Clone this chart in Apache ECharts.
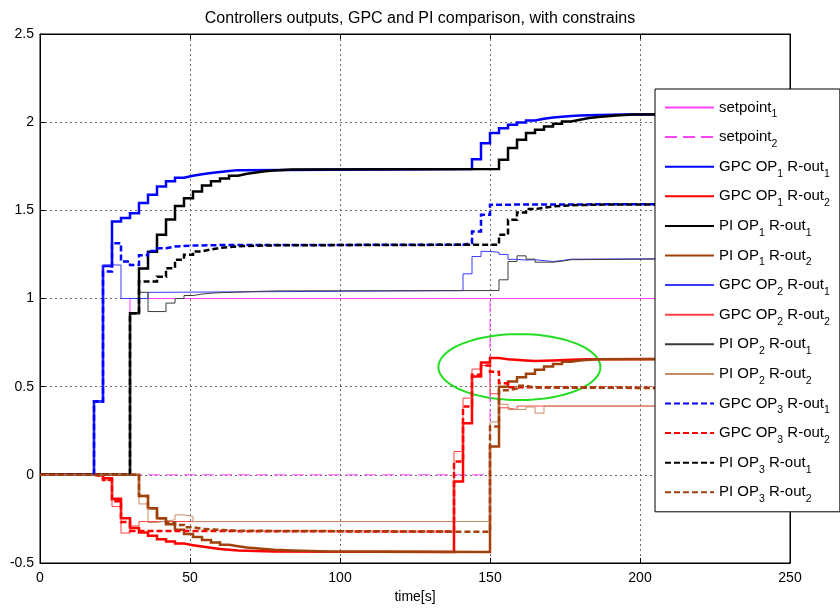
<!DOCTYPE html>
<html>
<head>
<meta charset="utf-8">
<title>Controllers outputs</title>
<script src="https://cdn.jsdelivr.net/npm/echarts@6/dist/echarts.min.js"></script>
<style>
  html, body { margin: 0; padding: 0; background: #ffffff; }
  #chart { width: 840px; height: 610px; }
</style>
</head>
<body>
<div id="chart"></div>
<script>
// ---- data: controller outputs as zero-order-hold samples [time (s), value] ----
const xTicks = [0, 50, 100, 150, 200, 250];
const yTicks = [-0.5, 0, 0.5, 1, 1.5, 2, 2.5];

const setpoint1 = [[0, 0], [30, 1], [250, 1]];
const setpoint2 = [[0, 0], [150, 1], [250, 1]];

const gpcOp1Out1 = [[0, 0], [18, 0.416], [21, 1.185], [24, 1.437], [27, 1.456], [30, 1.484], [33, 1.541],
  [36, 1.588], [39, 1.635], [42, 1.665], [45, 1.685], [48, 1.696], [51, 1.705], [54, 1.712], [57, 1.718],
  [60, 1.723], [63, 1.728], [66, 1.735], [144, 1.79], [147, 1.881], [150, 1.938], [153, 1.966], [156, 1.985],
  [159, 1.998], [162, 2.010], [165, 2.019], [168, 2.026], [171, 2.031], [174, 2.035], [177, 2.038],
  [180, 2.041], [186, 2.044], [195, 2.046], [250, 2.046]];

const gpcOp1Out2 = [[0, 0], [21, -0.02], [24, -0.135], [27, -0.246], [30, -0.302], [33, -0.327], [36, -0.346],
  [39, -0.365], [42, -0.378], [45, -0.39], [48, -0.399], [51, -0.407], [54, -0.414], [57, -0.42], [60, -0.425],
  [63, -0.429], [66, -0.432], [72, -0.435], [78, -0.437], [138, -0.038], [141, 0.293], [144, 0.558],
  [147, 0.637], [150, 0.662], [153, 0.655], [156, 0.648], [162, 0.645], [165, 0.648], [171, 0.652],
  [177, 0.655], [183, 0.658], [250, 0.658]];

const piOp1Out1 = [[0, 0], [30, 0.917], [33, 1.17], [36, 1.265], [39, 1.361], [42, 1.448], [45, 1.524],
  [48, 1.569], [51, 1.607], [54, 1.641], [57, 1.665], [60, 1.68], [63, 1.696], [66, 1.707], [69, 1.715],
  [72, 1.721], [75, 1.726], [78, 1.729], [81, 1.732], [84, 1.735], [153, 1.787], [156, 1.853], [159, 1.900],
  [162, 1.938], [165, 1.957], [168, 1.976], [171, 1.991], [174, 2.004], [177, 2.014], [180, 2.023],
  [183, 2.029], [186, 2.033], [189, 2.038], [192, 2.041], [195, 2.044], [198, 2.046], [250, 2.046]];

const piOp1Out2 = [[0, 0], [33, -0.12], [36, -0.189], [39, -0.246], [42, -0.28], [45, -0.312], [48, -0.335],
  [51, -0.353], [54, -0.369], [57, -0.384], [60, -0.397], [63, -0.405], [66, -0.412], [69, -0.417],
  [72, -0.421], [75, -0.425], [78, -0.429], [84, -0.432], [90, -0.435], [96, -0.437], [150, 0.161],
  [153, 0.50], [156, 0.529], [159, 0.554], [162, 0.573], [165, 0.596], [168, 0.614], [171, 0.628],
  [174, 0.641], [177, 0.648], [180, 0.652], [183, 0.656], [186, 0.658], [250, 0.658]];

const gpcOp2Out1 = [[0, 0], [18, 0.416], [21, 1.19], [27, 1.0], [36, 1.035], [39, 1.045], [141, 1.14],
  [144, 1.238], [147, 1.267], [150, 1.262], [153, 1.25], [156, 1.222], [159, 1.218], [162, 1.22],
  [165, 1.21], [171, 1.215], [174, 1.223], [177, 1.229], [250, 1.229]];

const gpcOp2Out2 = [[0, 0], [18, -0.01], [21, -0.03], [24, -0.18], [27, -0.33], [30, -0.29], [33, -0.265],
  [138, 0.132], [141, 0.435], [144, 0.60], [147, 0.62], [150, 0.46], [153, 0.38], [156, 0.37],
  [159, 0.39], [250, 0.39]];

const piOp2Out1 = [[0, 0], [30, 0.917], [33, 1.035], [36, 0.926], [42, 0.974], [45, 1.0], [48, 1.017],
  [51, 1.025], [54, 1.03], [57, 1.033], [60, 1.036], [66, 1.04], [72, 1.043], [79, 1.045], [153, 1.106],
  [156, 1.21], [159, 1.242], [162, 1.223], [165, 1.206], [171, 1.212], [174, 1.22], [177, 1.229], [250, 1.229]];

const piOp2Out2 = [[0, 0], [33, -0.165], [36, -0.27], [39, -0.262], [42, -0.255], [45, -0.227], [48, -0.236],
  [51, -0.265], [150, 0.30], [153, 0.40], [156, 0.37], [162, 0.385], [165, 0.35], [168, 0.39], [250, 0.39]];

const gpcOp3Out1 = [[0, 0], [18, 0.416], [21, 1.153], [24, 1.314], [27, 1.21], [30, 1.19], [33, 1.245],
  [36, 1.27], [39, 1.285], [42, 1.295], [45, 1.3], [51, 1.303], [60, 1.305], [141, 1.314], [144, 1.38],
  [147, 1.475], [150, 1.531], [153, 1.533], [159, 1.536], [250, 1.537]];

const gpcOp3Out2 = [[0, 0], [18, -0.01], [21, -0.03], [24, -0.15], [27, -0.267], [30, -0.318], [33, -0.322],
  [138, 0.075], [141, 0.387], [144, 0.567], [147, 0.62], [150, 0.585], [153, 0.52], [156, 0.497],
  [162, 0.49], [250, 0.49]];

const piOp3Out1 = [[0, 0], [30, 0.917], [33, 1.097], [39, 1.123], [42, 1.172], [45, 1.22], [48, 1.248],
  [51, 1.267], [54, 1.278], [57, 1.287], [60, 1.292], [63, 1.296], [66, 1.299], [72, 1.302], [80, 1.305],
  [153, 1.361], [156, 1.446], [159, 1.488], [162, 1.507], [165, 1.515], [168, 1.522], [171, 1.526],
  [174, 1.53], [180, 1.533], [190, 1.536], [250, 1.537]];

const piOp3Out2 = [[0, 0], [33, -0.12], [36, -0.189], [39, -0.246], [42, -0.27], [45, -0.284], [48, -0.297],
  [51, -0.306], [54, -0.312], [60, -0.317], [66, -0.323], [150, 0.274], [153, 0.48], [156, 0.49],
  [159, 0.505], [162, 0.495], [165, 0.49], [250, 0.49]];

// highlighted region (time, value) and its half-axes
const ellipseCenter = [159.8, 0.611];
const ellipseRadii = [27, 0.187];

// ---- styling ----
const FONT = 'Liberation Sans, Arial, Helvetica, sans-serif';
const THICK = 2.5, THIN = 1;
const DASH = [6, 3], SP_DASH = [12, 6];

const lines = [
  { name: 'setpoint1', data: setpoint1, color: '#ff44ff', width: THIN, type: 'solid' },
  { name: 'setpoint2', data: setpoint2, color: '#ff44ff', width: THIN, type: SP_DASH },
  { name: 'GPC OP1 R-out1', data: gpcOp1Out1, color: '#0000ff', width: THICK, type: 'solid' },
  { name: 'GPC OP1 R-out2', data: gpcOp1Out2, color: '#ff0000', width: THICK, type: 'solid' },
  { name: 'PI OP1 R-out1', data: piOp1Out1, color: '#000000', width: THICK, type: 'solid' },
  { name: 'PI OP1 R-out2', data: piOp1Out2, color: '#a0400a', width: THICK, type: 'solid' },
  { name: 'GPC OP2 R-out1', data: gpcOp2Out1, color: '#3a3aff', width: THIN, type: 'solid' },
  { name: 'GPC OP2 R-out2', data: gpcOp2Out2, color: '#ff4040', width: THIN, type: 'solid' },
  { name: 'PI OP2 R-out1', data: piOp2Out1, color: '#3c3c3c', width: THIN, type: 'solid' },
  { name: 'PI OP2 R-out2', data: piOp2Out2, color: '#c98a68', width: THIN, type: 'solid' },
  { name: 'GPC OP3 R-out1', data: gpcOp3Out1, color: '#0000ff', width: THICK, type: DASH },
  { name: 'GPC OP3 R-out2', data: gpcOp3Out2, color: '#ff0000', width: THICK, type: DASH },
  { name: 'PI OP3 R-out1', data: piOp3Out1, color: '#000000', width: THICK, type: DASH },
  { name: 'PI OP3 R-out2', data: piOp3Out2, color: '#a0400a', width: THICK, type: DASH }
];

// "GPC OP1 R-out2" -> main text with subscripted indices
function legendLabel(name) {
  return name.split(/(\d)/).filter(s => s.length).map(s =>
    /^\d$/.test(s) ? '{s|' + s + '}' : '{m|' + s + '}'
  ).join('');
}

const seriesList = lines.map(l => ({
  name: l.name,
  type: 'line',
  step: 'end',
  data: l.data,
  symbol: 'none',
  showSymbol: false,
  silent: true,
  animation: false,
  lineStyle: { color: l.color, width: l.width, type: l.type, cap: 'butt', join: 'miter' },
  itemStyle: { color: l.color },
  emphasis: { disabled: true }
}));

seriesList.push({
  name: 'region',
  type: 'custom',
  silent: true,
  animation: false,
  data: [ellipseCenter],
  renderItem: function (params, api) {
    const pts = [];
    const n = 90;
    for (let k = 0; k < n; k++) {
      const a = (k / n) * Math.PI * 2;
      pts.push(api.coord([
        ellipseCenter[0] + ellipseRadii[0] * Math.cos(a),
        ellipseCenter[1] + ellipseRadii[1] * Math.sin(a)
      ]));
    }
    return {
      type: 'polygon',
      shape: { points: pts },
      style: { fill: 'none', stroke: '#22dd22', lineWidth: 2 }
    };
  }
});

const axisCommon = {
  axisLine: { show: true, onZero: false, lineStyle: { color: '#000', width: 1 } },
  axisTick: { show: true, inside: true, length: 5, lineStyle: { color: '#000' } }
};

const chart = echarts.init(document.getElementById('chart'), null, { renderer: 'canvas' });
chart.setOption({
  backgroundColor: '#ffffff',
  animation: false,
  title: {
    text: 'Controllers outputs, GPC and PI comparison, with constrains',
    left: 415,
    textAlign: 'center',
    top: 6,
    textStyle: { fontFamily: FONT, fontSize: 16, fontWeight: 'normal', color: '#000' }
  },
  grid: {
    left: 40, right: 50, top: 34, bottom: 47,
    show: true, borderColor: '#000', borderWidth: 1, backgroundColor: '#fff'
  },
  legend: {
    orient: 'vertical',
    left: 655, top: 89,
    padding: [6, 10, 7, 9],
    itemWidth: 49, itemHeight: 14, itemGap: 4.6,
    backgroundColor: '#ffffff',
    borderColor: '#000', borderWidth: 1, borderRadius: 0,
    selectedMode: false,
    data: lines.map(l => l.name),
    formatter: legendLabel,
    // line samples only, no point markers
    itemStyle: { opacity: 0, borderWidth: 0 },
    textStyle: {
      fontFamily: FONT, fontSize: 15, color: '#000',
      rich: {
        m: { fontFamily: FONT, fontSize: 15, color: '#000', lineHeight: 18 },
        s: { fontFamily: FONT, fontSize: 10.5, color: '#000', lineHeight: 8, padding: [14, 0, 0, 0] }
      }
    }
  },
  xAxis: [
    Object.assign({
      type: 'value', min: xTicks[0], max: xTicks[xTicks.length - 1], interval: 50,
      name: 'time[s]', nameLocation: 'middle', nameGap: 27,
      nameTextStyle: { fontFamily: FONT, fontSize: 14, color: '#000' },
      axisLabel: { fontFamily: FONT, fontSize: 14, color: '#000', margin: 8 },
      splitLine: { show: true, lineStyle: { color: '#6a6a6a', width: 1, type: [2, 3] } }
    }, axisCommon),
    Object.assign({
      type: 'value', position: 'top', min: xTicks[0], max: xTicks[xTicks.length - 1], interval: 50,
      axisLabel: { show: false }, splitLine: { show: false }
    }, axisCommon)
  ],
  yAxis: [
    Object.assign({
      type: 'value', min: yTicks[0], max: yTicks[yTicks.length - 1], interval: 0.5,
      axisLabel: { fontFamily: FONT, fontSize: 14, color: '#000', margin: 6 },
      splitLine: { show: true, lineStyle: { color: '#6a6a6a', width: 1, type: [2, 3] } }
    }, axisCommon),
    Object.assign({
      type: 'value', position: 'right', min: yTicks[0], max: yTicks[yTicks.length - 1], interval: 0.5,
      axisLabel: { show: false }, splitLine: { show: false }
    }, axisCommon)
  ],
  series: seriesList
});
</script>
</body>
</html>
